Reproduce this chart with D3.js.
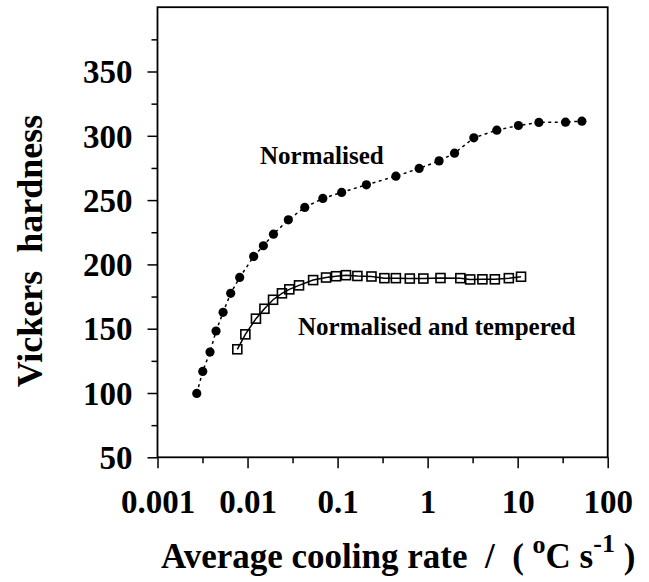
<!DOCTYPE html>
<html>
<head>
<meta charset="utf-8">
<script src="https://cdn.jsdelivr.net/npm/d3@7"></script>
<style>
  html, body { margin: 0; padding: 0; background: #fff; }
  svg { display: block; }
  svg text { font-family: "Liberation Serif", "Times New Roman", serif; font-weight: bold; white-space: pre; }
</style>
</head>
<body>
<script>
// Cooling rate (°C/s) and Vickers hardness, normalised condition
const normRate = [0.00273, 0.00318, 0.00383, 0.00447, 0.00535, 0.0065, 0.00818, 0.0117, 0.0150, 0.0194,
                  0.0284, 0.0432, 0.0686, 0.111, 0.209, 0.444, 0.805, 1.34, 1.99, 3.26,
                  5.87, 10.2, 17.2, 34.0, 51.7];
const normHV   = [99.7, 116.8, 131.8, 148.2, 162.7, 177.5, 189.9, 206.2, 214.5, 223.5,
                  234.7, 244.3, 251.3, 256.0, 261.9, 268.6, 274.6, 280.5, 286.5, 298.4,
                  304.4, 308.0, 310.4, 310.6, 311.4];

// Normalised and tempered condition
const tempRate = [0.0077, 0.00946, 0.0124, 0.0154, 0.0192, 0.0241, 0.0291, 0.0373, 0.0535, 0.0745,
                  0.0962, 0.124, 0.166, 0.238, 0.331, 0.444, 0.634, 0.897, 1.39, 2.31,
                  2.97, 4.06, 5.58, 7.98, 10.9];
const tempHV   = [134.0, 145.6, 157.8, 165.5, 172.5, 177.5, 180.6, 183.7, 187.8, 189.8,
                  190.8, 191.6, 191.0, 190.6, 189.3, 189.3, 189.0, 189.0, 189.4, 189.3,
                  188.3, 188.4, 188.4, 189.3, 190.4];

// Axis ticks and labels
const xTickValues = [0.001, 0.01, 0.1, 1, 10, 100];
const xTickLabels = ["0.001", "0.01", "0.1", "1", "10", "100"];
const xMinorTicks = [0.00316, 0.0316, 0.316, 3.16, 31.6];
const yTickValues = [50, 100, 150, 200, 250, 300, 350];
const yTickLabels = ["50", "100", "150", "200", "250", "300", "350"];
const yMinorTicks = [75, 125, 175, 225, 275, 325, 375];

// Curve annotations placed in data space: [rate, hardness, text]
const annotations = [
  [0.01377, 278, "Normalised"],
  [0.0364, 145, "Normalised and tempered"]
];

const W = 649, H = 582;
const m = { left: 157.5, right: W - 607.7, top: 7.2, bottom: H - 457.3 };

const svg = d3.select("body").append("svg").attr("width", W).attr("height", H);

const x = d3.scaleLog().domain([0.001, 100]).range([m.left, W - m.right]);
const y = d3.scaleLinear().domain([50, 400]).range([H - m.bottom, m.top]);

function styleAxis(g) {
  g.attr("font-family", null).attr("font-size", null);
  g.select(".domain").remove();
  g.selectAll("line").attr("stroke-width", 1.5);
  g.selectAll("text").attr("font-size", 33).attr("fill", "#000");
}

// Axes: major ticks with labels, minor ticks without
const xAxis = d3.axisBottom(x).tickValues(xTickValues)
  .tickFormat((d, i) => xTickLabels[i]).tickSize(11).tickPadding(21);
svg.append("g").attr("transform", `translate(0,${y(50)})`).call(xAxis).call(styleAxis);
svg.append("g").attr("transform", `translate(0,${y(50)})`)
  .call(d3.axisBottom(x).tickValues(xMinorTicks).tickFormat("").tickSize(6)).call(styleAxis);

const yAxis = d3.axisLeft(y).tickValues(yTickValues)
  .tickFormat((d, i) => yTickLabels[i]).tickSize(10).tickPadding(15);
const gy = svg.append("g").attr("transform", `translate(${x(0.001)},0)`).call(yAxis).call(styleAxis);
gy.selectAll("text").attr("dy", "0.34em");
svg.append("g").attr("transform", `translate(${x(0.001)},0)`)
  .call(d3.axisLeft(y).tickValues(yMinorTicks).tickFormat("").tickSize(6)).call(styleAxis);

// Plot frame
svg.append("rect")
  .attr("x", x.range()[0]).attr("y", y.range()[1])
  .attr("width", x.range()[1] - x.range()[0])
  .attr("height", y.range()[0] - y.range()[1])
  .attr("fill", "none").attr("stroke", "#000").attr("stroke-width", 1.8);

const line = d3.line().x(d => x(d[0])).y(d => y(d[1]));
const normPts = normRate.map((r, i) => [r, normHV[i]]);
const tempPts = tempRate.map((r, i) => [r, tempHV[i]]);

// Normalised: dotted line with filled circles
svg.append("path").datum(normPts).attr("d", line)
  .attr("fill", "none").attr("stroke", "#000").attr("stroke-width", 1.5)
  .attr("stroke-dasharray", "3,3.5");
svg.append("g").selectAll("circle").data(normPts).join("circle")
  .attr("cx", d => x(d[0])).attr("cy", d => y(d[1])).attr("r", 4.6).attr("fill", "#000");

// Normalised and tempered: solid line with open squares
svg.append("path").datum(tempPts).attr("d", line)
  .attr("fill", "none").attr("stroke", "#000").attr("stroke-width", 1.5);
const s = 9;
svg.append("g").selectAll("rect").data(tempPts).join("rect")
  .attr("x", d => x(d[0]) - s / 2).attr("y", d => y(d[1]) - s / 2)
  .attr("width", s).attr("height", s)
  .attr("fill", "none").attr("stroke", "#000").attr("stroke-width", 1.6);

// Curve annotations
svg.append("g").selectAll("text").data(annotations).join("text")
  .attr("x", d => x(d[0])).attr("y", d => y(d[1]))
  .attr("font-size", 25).text(d => d[2]);

// Y axis title
svg.append("text")
  .attr("transform", "translate(42,251) rotate(-90)")
  .attr("text-anchor", "middle").attr("font-size", 36)
  .text("Vickers  hardness");

// X axis title with superscripts
const xt = svg.append("text").attr("x", 161).attr("y", 568).attr("font-size", 35);
xt.append("tspan").text("Average cooling rate  /  ( ");
xt.append("tspan").attr("font-size", 26).attr("dy", -15).text("o");
xt.append("tspan").attr("dy", 15).text("C s");
xt.append("tspan").attr("font-size", 26).attr("dy", -16).text("-1");
xt.append("tspan").attr("dy", 16).text(" )");
</script>
</body>
</html>
